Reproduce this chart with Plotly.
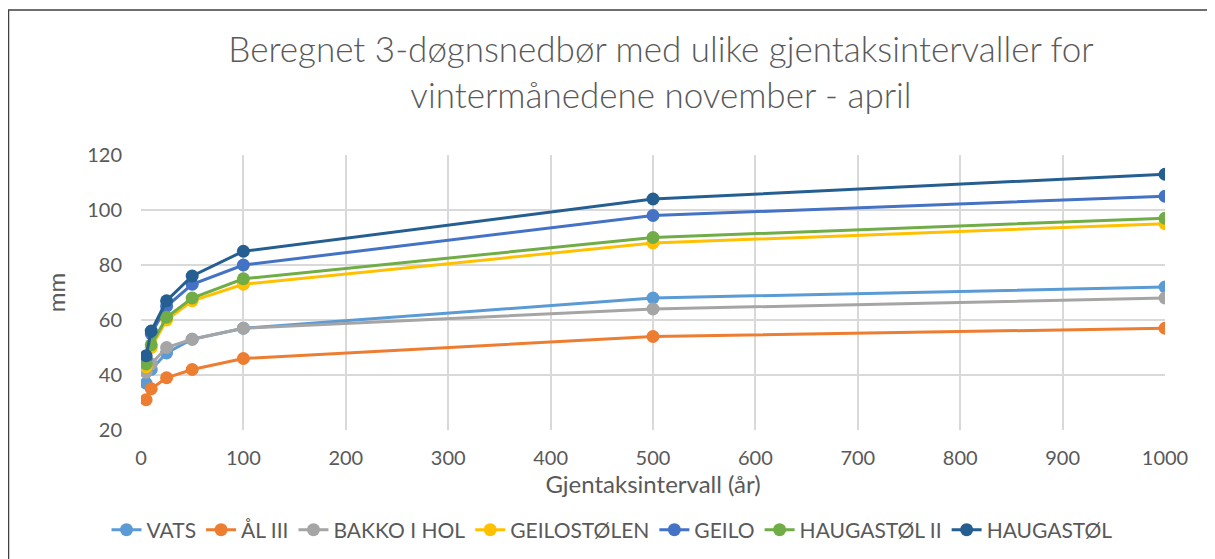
import plotly.graph_objects as go

intervals = [5, 10, 25, 50, 100, 500, 1000]
series_names = ["VATS", "ÅL III", "BAKKO I HOL", "GEILOSTØLEN", "GEILO", "HAUGASTØL II", "HAUGASTØL"]
vats = [37, 42, 48, 53, 57, 68, 72]
aal = [31, 35, 39, 42, 46, 54, 57]
bakko = [41, 44, 50, 53, 57, 64, 68]
geilostolen = [43, 50, 60, 67, 73, 88, 95]
geilo = [46, 55, 65, 73, 80, 98, 105]
haugastol2 = [44, 51, 61, 68, 75, 90, 97]
haugastol = [47, 56, 67, 76, 85, 104, 113]
colors = ["#5B9BD5", "#ED7D31", "#A5A5A5", "#FFC000", "#4472C4", "#70AD47", "#255E91"]
values = [vats, aal, bakko, geilostolen, geilo, haugastol2, haugastol]

FONT = "Lato"
fig = go.Figure()
for name, vals, c in zip(series_names, values, colors):
    fig.add_trace(go.Scatter(x=intervals, y=vals, name=name, mode="lines+markers",
                             line=dict(color=c, width=3),
                             marker=dict(color=c, size=13)))

# page body has an 8px margin, so work in figure coords = screen - 8
OFF = 8
W, H = 1215 - OFF, 559 - OFF
L, T = 141 - OFF, 155 - OFF
R = W - (1165 - OFF)
B = H - (430 - OFF)
pw, ph = W - L - R, H - T - B

def px(x):
    return (x - OFF - L) / pw

def py(y):
    return (H - B - (y - OFF)) / ph

fig.update_layout(
    width=W, height=H,
    margin=dict(l=L, r=R, t=T, b=B),
    paper_bgcolor="white", plot_bgcolor="white",
    font=dict(family=FONT, color="#595959", size=20),
    title=dict(text="Beregnet 3-døgnsnedbør med ulike gjentaksintervaller for<br>vintermånedene november - april",
               x=(661 - OFF) / W, xanchor="center", y=1 - (62 - OFF) / H, yanchor="middle",
               font=dict(family=FONT, size=35, color="#595959", weight=300)),
    xaxis=dict(range=[0, 1000], dtick=100, showgrid=True, gridcolor="#D9D9D9", gridwidth=1.5,
               zeroline=False, showline=False, ticks="", ticklabelstandoff=14,
               title=dict(text="Gjentaksintervall (år)", font=dict(size=24), standoff=0),
               tickfont=dict(size=20)),
    yaxis=dict(range=[20, 120], dtick=20, showgrid=True, gridcolor="#D9D9D9", gridwidth=1.5,
               zeroline=False, showline=False, ticks="", ticklabelstandoff=18,
               title=dict(text="mm", font=dict(size=24), standoff=14),
               tickfont=dict(size=20)),
    legend=dict(orientation="h", x=(612 - OFF) / W, xanchor="center", xref="container",
                y=(559 - 530) / H, yanchor="middle", yref="container",
                font=dict(size=21, color="#595959"), tracegroupgap=0),
    showlegend=True,
    shapes=[dict(type="rect", xref="paper", yref="paper",
                 x0=px(8.5), x1=px(1300), y0=py(620), y1=py(10),
                 line=dict(color="#404040", width=1.5), fillcolor="rgba(0,0,0,0)", layer="below")],
)
fig.write_html("out.html")
